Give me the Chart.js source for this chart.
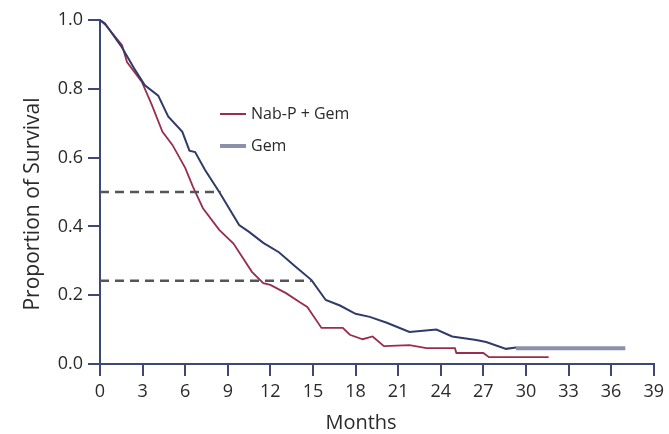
<!DOCTYPE html>
<html>
<head>
<meta charset="utf-8">
<script src="https://cdn.jsdelivr.net/npm/chart.js@4/dist/chart.umd.min.js"></script>
<style>
  html, body { margin: 0; padding: 0; background: #fff; }
  #wrap { width: 669px; height: 434px; }
</style>
</head>
<body>
<div id="wrap"><canvas id="myChart" width="669" height="434"></canvas></div>
<script>
// survival curves (months, proportion)
var nabMonths = [0, 0.4, 1.0, 1.55, 1.9, 2.95, 3.65, 4.4, 5.1, 5.6, 6.0, 6.55, 7.25, 8.4, 9.4, 10.7, 11.5, 12.0, 13.1, 14.05, 14.6, 15.6, 16.4, 17.1, 17.6, 18.5, 19.2, 20.0, 21.8, 23.0, 25.0, 25.1, 27.0, 27.4, 31.6];
var nabSurv   = [1.0, 0.985, 0.955, 0.927, 0.878, 0.82, 0.753, 0.675, 0.637, 0.60, 0.57, 0.515, 0.453, 0.39, 0.35, 0.268, 0.235, 0.23, 0.206, 0.18, 0.166, 0.105, 0.105, 0.105, 0.085, 0.072, 0.08, 0.052, 0.055, 0.046, 0.046, 0.032, 0.032, 0.02, 0.02];

var gemMonths = [0, 0.35, 1.55, 2.4, 3.16, 4.1, 4.8, 5.8, 6.3, 6.7, 7.4, 8.4, 9.8, 10.5, 11.5, 12.6, 13.8, 14.9, 15.9, 16.9, 18.0, 19.0, 20.2, 21.8, 23.7, 24.8, 26.5, 27.2, 28.6, 29.3];
var gemSurv   = [1.0, 0.99, 0.92, 0.86, 0.81, 0.78, 0.72, 0.675, 0.62, 0.616, 0.564, 0.50, 0.404, 0.384, 0.352, 0.325, 0.282, 0.244, 0.186, 0.17, 0.146, 0.137, 0.12, 0.093, 0.10, 0.08, 0.07, 0.064, 0.044, 0.048];
// censored tail of Gem
var gemTailMonths = [29.3, 37.0];
var gemTailSurv   = [0.046, 0.046];

// median and 1-year dashed guides
var guide1Months = [0, 8.5];
var guide1Surv   = [0.5, 0.5];
var guide2Months = [0, 14.9];
var guide2Surv   = [0.242, 0.242];

var xTicks = [0, 3, 6, 9, 12, 15, 18, 21, 24, 27, 30, 33, 36, 39];
var yTicks = [0, 0.2, 0.4, 0.6, 0.8, 1.0];

var legendLabels = ['Nab-P + Gem', 'Gem'];
var xTitle = 'Months';
var yTitle = 'Proportion of Survival';

var red = '#9a2d4e';
var navy = '#2f3b6b';
var tailColor = '#8b91aa';
var axisColor = '#3d4877';
var textColor = '#2a2a2a';
var fontFam = '"Open Sans", "DejaVu Sans", sans-serif';

function pts(xs, ys) {
    var out = [];
    for (var i = 0; i < xs.length; i++) {
        out.push({ x: xs[i], y: ys[i] });
    }
    return out;
}

// legend and axis titles drawn where the original figure has them
var extras = {
    id: 'extras',
    afterDraw: function(chart) {
        var ctx = chart.ctx;
        var rows = [
            { text: legendLabels[0], color: red, width: 2, y: 114 },
            { text: legendLabels[1], color: tailColor, width: 4, y: 146 }
        ];
        ctx.save();
        ctx.font = '16px ' + fontFam;
        ctx.textBaseline = 'middle';
        ctx.fillStyle = textColor;
        rows.forEach(function(r) {
            ctx.strokeStyle = r.color;
            ctx.lineWidth = r.width;
            ctx.beginPath();
            ctx.moveTo(220, r.y);
            ctx.lineTo(246, r.y);
            ctx.stroke();
            ctx.fillText(r.text, 251, r.y);
        });

        ctx.textAlign = 'center';
        ctx.font = '20px ' + fontFam;
        ctx.fillText(xTitle, 361, 423);

        ctx.translate(33, 204);
        ctx.rotate(-Math.PI / 2);
        ctx.font = '21px ' + fontFam;
        ctx.fillText(yTitle, 0, 0);
        ctx.restore();
    }
};

const data = {
    datasets: [{
        label: 'guide1',
        data: pts(guide1Months, guide1Surv),
        borderColor: '#555555',
        borderWidth: 2.5,
        borderDash: [9, 6],
        pointRadius: 0
    }, {
        label: 'guide2',
        data: pts(guide2Months, guide2Surv),
        borderColor: '#555555',
        borderWidth: 2.5,
        borderDash: [9, 6],
        pointRadius: 0
    }, {
        label: 'Gem tail',
        data: pts(gemTailMonths, gemTailSurv),
        borderColor: tailColor,
        borderWidth: 4,
        pointRadius: 0
    }, {
        label: 'Gem',
        data: pts(gemMonths, gemSurv),
        borderColor: navy,
        borderWidth: 2,
        pointRadius: 0
    }, {
        label: 'Nab-P + Gem',
        data: pts(nabMonths, nabSurv),
        borderColor: red,
        borderWidth: 1.8,
        pointRadius: 0
    }]
};

const config = {
    type: 'line',
    data: data,
    plugins: [extras],
    options: {
        responsive: false,
        animation: false,
        layout: { padding: { top: 20, right: 14, left: 0, bottom: 0 } },
        plugins: {
            legend: { display: false },
            tooltip: { enabled: false }
        },
        elements: { line: { tension: 0 } },
        scales: {
            x: {
                type: 'linear',
                min: 0,
                max: 39,
                afterBuildTicks: function(scale) {
                    scale.ticks = xTicks.map(function(v) { return { value: v }; });
                },
                afterFit: function(scale) { scale.height = 70; },
                grid: { drawOnChartArea: false, color: axisColor, lineWidth: 2, tickLength: 12 },
                border: { color: axisColor, width: 2 },
                ticks: { color: textColor, font: { family: fontFam, size: 18 }, padding: 5, maxRotation: 0 }
            },
            y: {
                min: 0,
                max: 1,
                afterBuildTicks: function(scale) {
                    scale.ticks = yTicks.map(function(v) { return { value: v }; });
                },
                afterFit: function(scale) { scale.width = 100; },
                grid: { drawOnChartArea: false, color: axisColor, lineWidth: 2, tickLength: 12 },
                border: { color: axisColor, width: 2 },
                ticks: {
                    color: textColor,
                    font: { family: fontFam, size: 18 },
                    padding: 5,
                    callback: function(v) { return v.toFixed(1); }
                }
            }
        }
    }
};

const myChart = new Chart(document.getElementById('myChart'), config);
</script>
</body>
</html>
